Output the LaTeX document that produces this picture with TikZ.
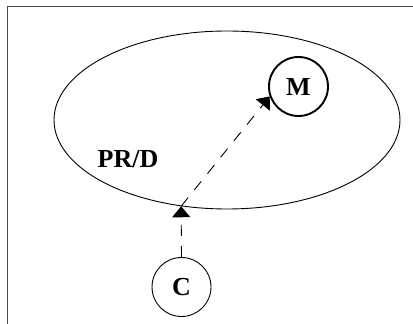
\documentclass[tikz,border=0pt]{standalone}
\usepackage{fontspec}
\setmainfont{Liberation Serif}
\usetikzlibrary{shapes.geometric,arrows.meta}
\begin{document}
\begin{tikzpicture}[x=1pt,y=1pt,
  lbl/.style={font=\fontsize{26}{29}\selectfont\bfseries},
  circ/.style={circle,draw,minimum size=59pt,inner sep=0pt,lbl},
  dasharrow/.style={draw,line width=0.9pt,dash pattern=on 11pt off 10pt,
    -{Triangle[width=18pt,length=11pt]}}]
\useasboundingbox (0,0) rectangle (413,324);
\draw[line width=1.6pt,draw=black!70] (7.5,0) -- (7.5,317.2);
\draw[line width=1pt,draw=black!70] (6.7,317) -- (413,317);
\node[ellipse,draw,line width=0.9pt,minimum width=346pt,minimum height=178pt,inner sep=0pt] (E) at (227,204) {};
\node[circ,line width=1.9pt] (M) at (298.5,237.5) {M};
\node[circ,line width=0.9pt] (C) at (181.5,37) {C};
\node[lbl,anchor=base] (PRD) at (128,156) {PR/D};
\coordinate (P) at (E.242);
\draw[dasharrow] (C.north) -- (P);
\draw[dasharrow] (P) -- (M.199);
\end{tikzpicture}
\end{document}
